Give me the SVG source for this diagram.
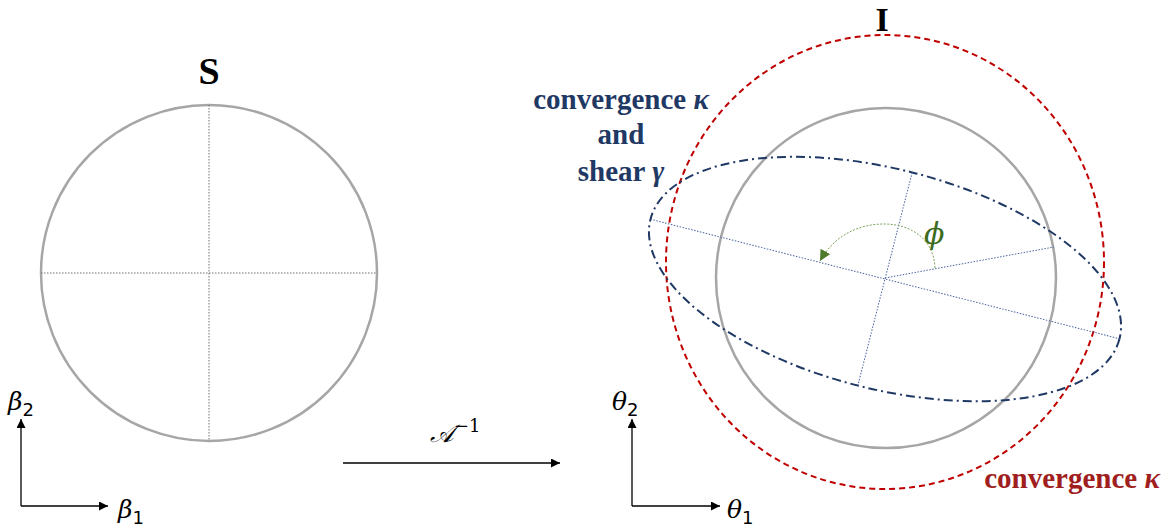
<svg xmlns="http://www.w3.org/2000/svg" width="1172" height="532" viewBox="0 0 1172 532">
<style>
.gc{fill:none;stroke:#a6a6a6;stroke-width:2.5}
.gd{fill:none;stroke:#6f6f6f;stroke-width:1;stroke-dasharray:1.5 1.5}
.bd{fill:none;stroke:#4a64a0;stroke-width:1;stroke-dasharray:1.5 1.5}
.ax{fill:none;stroke:#000;stroke-width:1.3}
.ttl{font-family:"Liberation Serif",serif;font-weight:bold;font-size:38px;text-anchor:middle;fill:#000}
.math{font-family:"DejaVu Serif","Liberation Serif",serif;font-style:italic;font-size:25px;fill:#000}
.sub{font-family:"DejaVu Sans","Liberation Sans",sans-serif;font-style:normal;font-size:18px}
.blab{font-family:"Liberation Serif",serif;font-weight:bold;font-size:29px;text-anchor:middle;fill:#1f3864}
.rlab{font-family:"Liberation Serif",serif;font-weight:bold;font-size:29px;text-anchor:middle;fill:#a01e1e}
</style>
<defs>
<marker id="ah" viewBox="0 0 10 10" refX="10" refY="5" markerWidth="9" markerHeight="9" markerUnits="userSpaceOnUse" orient="auto"><path d="M0,0 L10,5 L0,10 z" fill="#000"/></marker>
<marker id="gh" viewBox="0 0 10 10" refX="10" refY="5" markerWidth="11" markerHeight="11" markerUnits="userSpaceOnUse" orient="auto"><path d="M0,0 L10,5 L0,10 z" fill="#4e7a2c"/></marker>
</defs>

<g id="source">
<circle class="gc" cx="209" cy="273" r="168"/>
<line class="gd" x1="41" y1="273" x2="377" y2="273"/>
<line class="gd" x1="209" y1="105" x2="209" y2="441"/>
<text class="ttl" x="209" y="84">S</text>
</g>

<g id="image">
<circle class="gc" cx="886" cy="278" r="170"/>
<ellipse cx="885" cy="262" rx="219" ry="227" fill="none" stroke="#c00000" stroke-width="2" stroke-dasharray="6 4"/>
<g transform="rotate(14.3 885 279)">
<ellipse cx="885" cy="279" rx="242" ry="110" fill="none" stroke="#1f3864" stroke-width="2" stroke-dasharray="9 4 2 4"/>
<line class="bd" x1="643" y1="279" x2="1127" y2="279"/>
<line class="bd" x1="885" y1="169" x2="885" y2="389"/>
</g>
<line class="bd" x1="885" y1="278" x2="1054" y2="247"/>
<text class="ttl" x="882" y="31" style="font-size:34px">I</text>
</g>

<g id="phi">
<path d="M935,268 C934,240 912,224 884,224 C858,224 834,236 820,261" fill="none" stroke="#7aa35a" stroke-width="1" stroke-dasharray="2 1.5" marker-end="url(#gh)"/>
<text x="924" y="244" font-family="DejaVu Serif,serif" font-style="italic" font-size="30" fill="#3d6b21">ϕ</text>
</g>

<g id="label-kg">
<text class="blab" x="621" y="109">convergence <tspan font-style="italic">κ</tspan></text>
<text class="blab" x="621" y="144">and</text>
<text class="blab" x="621" y="181">shear <tspan font-style="italic">γ</tspan></text>
</g>

<g id="label-k">
<text class="rlab" x="1072" y="488">convergence <tspan font-style="italic">κ</tspan></text>
</g>

<g id="axes-beta">
<text class="math" x="8" y="410">β<tspan class="sub" dy="6">2</tspan></text>
<text class="math" x="118" y="518">β<tspan class="sub" dy="6">1</tspan></text>
</g>
<g id="axes-theta">
<text class="math" x="612" y="410">θ<tspan class="sub" dy="6">2</tspan></text>
<text class="math" x="727" y="518">θ<tspan class="sub" dy="6">1</tspan></text>
</g>
<g id="map-label">
<text class="math" x="430" y="442">𝒜<tspan font-style="normal" font-size="18" dy="-10">−1</tspan></text>
</g>

<g id="connectors">
<path class="ax" d="M21,506 L21,419" marker-end="url(#ah)"/>
<path class="ax" d="M21,506 L108,506" marker-end="url(#ah)"/>
<path class="ax" d="M632,506 L632,419" marker-end="url(#ah)"/>
<path class="ax" d="M632,506 L720,506" marker-end="url(#ah)"/>
<path class="ax" d="M343,463 L560,463" marker-end="url(#ah)"/>
</g>
</svg>
